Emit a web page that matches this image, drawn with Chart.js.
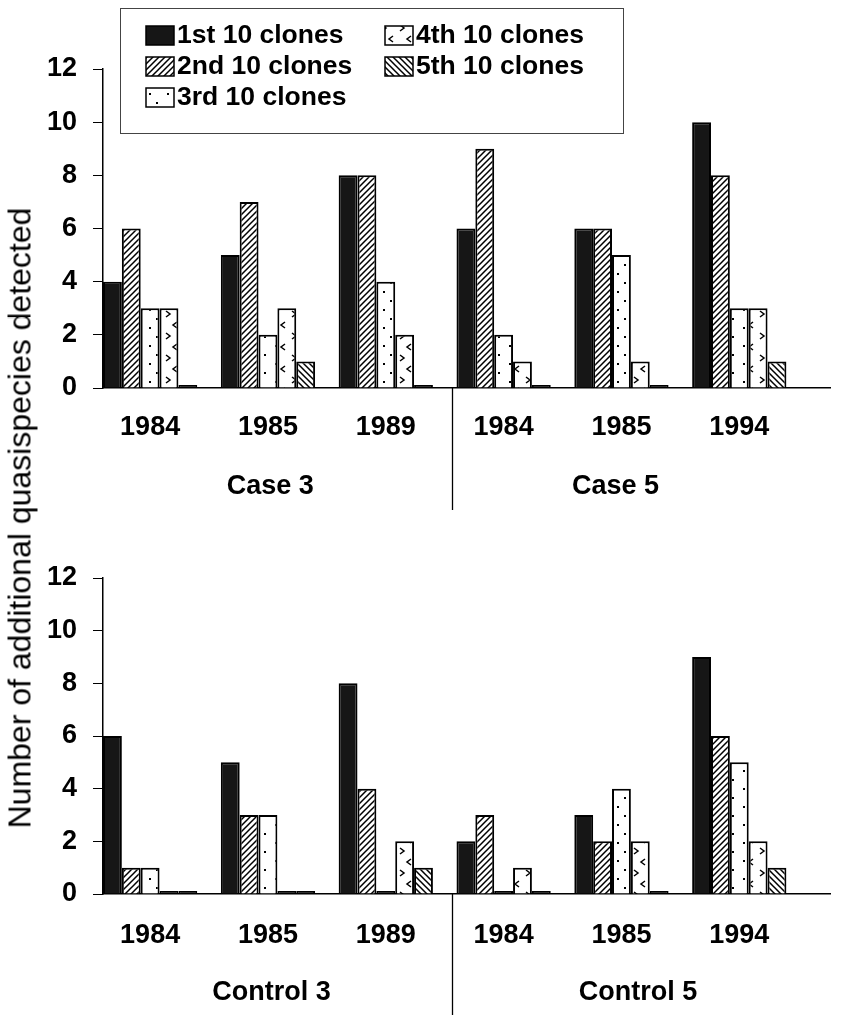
<!DOCTYPE html>
<html>
<head>
<meta charset="utf-8">
<title>Additional quasispecies detected</title>
<script src="https://cdn.jsdelivr.net/npm/chart.js@4.4.0/dist/chart.umd.min.js"></script>
<style>
  body { margin: 0; background: #fff; }
  #wrap { position: relative; width: 842px; height: 1015px; overflow: hidden; }
  #topChart { position: absolute; left: 0; top: 0; }
  #bottomChart { position: absolute; left: 0; top: 515px; }
  #yTitle {
    position: absolute; left: 20px; top: 518px;
    transform: translate(-50%, -50%) rotate(-90deg);
    white-space: nowrap;
    font: 32px "Liberation Sans", Arial, Helvetica, sans-serif;
    color: #000;
  }
</style>
</head>
<body>
<div id="wrap">
  <canvas id="topChart" width="842" height="515"></canvas>
  <canvas id="bottomChart" width="842" height="500"></canvas>
  <div id="yTitle">Number of additional quasispecies detected</div>
</div>
<script>
// years sampled per subject (three per subject, two subjects per panel)
const caseYears = ["1984", "1985", "1989", "1984", "1985", "1994"];
const controlYears = ["1984", "1985", "1989", "1984", "1985", "1994"];
const caseGroups = ["Case 3", "Case 5"];
const controlGroups = ["Control 3", "Control 5"];
const seriesNames = ["1st 10 clones", "2nd 10 clones", "3rd 10 clones", "4th 10 clones", "5th 10 clones"];
const yTicks = [0, 2, 4, 6, 8, 10, 12];

// cases
const case1st = [4, 5, 8, 6, 6, 10];
const case2nd = [6, 7, 8, 9, 6, 8];
const case3rd = [3, 2, 4, 2, 5, 3];
const case4th = [3, 3, 2, 1, 1, 3];
const case5th = [0, 1, 0, 0, 0, 1];

// controls
const control1st = [6, 5, 8, 2, 3, 9];
const control2nd = [1, 3, 4, 3, 2, 6];
const control3rd = [1, 3, 0, 0, 4, 5];
const control4th = [0, 0, 2, 1, 2, 2];
const control5th = [0, 0, 1, 0, 0, 1];

const FONT = "'Liberation Sans', Arial, Helvetica, sans-serif";

// fill patterns, one per clone batch
function tile(w, h, draw) {
  const c = document.createElement("canvas");
  c.width = w; c.height = h;
  const g = c.getContext("2d");
  g.fillStyle = "#fff";
  g.fillRect(0, 0, w, h);
  g.strokeStyle = "#000";
  g.fillStyle = "#000";
  draw(g);
  return g.createPattern(c, "repeat");
}

const fills = [
  "#161616",
  tile(6, 6, g => {
    g.lineWidth = 1.5;
    g.beginPath();
    g.moveTo(0, 6); g.lineTo(6, 0);
    g.moveTo(-1, 1); g.lineTo(1, -1);
    g.moveTo(5, 7); g.lineTo(7, 5);
    g.stroke();
  }),
  tile(18, 18, g => {
    g.fillRect(5, 3, 2, 2);
    g.fillRect(12, 12, 2, 2);
  }),
  tile(18, 22, g => {
    g.lineWidth = 1.5;
    g.beginPath();
    g.moveTo(4, 3); g.lineTo(8, 6); g.lineTo(4, 9);
    g.moveTo(15, 14); g.lineTo(11, 17); g.lineTo(15, 20);
    g.stroke();
  }),
  tile(6, 6, g => {
    g.lineWidth = 1.5;
    g.beginPath();
    g.moveTo(0, 0); g.lineTo(6, 6);
    g.moveTo(-1, 5); g.lineTo(1, 7);
    g.moveTo(5, -1); g.lineTo(7, 1);
    g.stroke();
  })
];

// subject labels under the years, and the rule between the two subjects
const groupLabels = {
  id: "groupLabels",
  afterDraw(chart, args, opts) {
    const { ctx, chartArea, scales: { x } } = chart;
    ctx.save();
    ctx.font = "bold 27px " + FONT;
    ctx.fillStyle = "#000";
    ctx.textAlign = "center";
    ctx.textBaseline = "middle";
    opts.labels.forEach((t, i) => {
      ctx.fillText(t, x.getPixelForValue(opts.centers[i]), chartArea.bottom + opts.offset);
    });
    const dx = Math.round(x.getPixelForValue(opts.divider)) + 0.5;
    ctx.strokeStyle = "#000";
    ctx.lineWidth = 1.3;
    ctx.beginPath();
    ctx.moveTo(dx, chartArea.bottom);
    ctx.lineTo(dx, chartArea.bottom + opts.dividerLength);
    ctx.stroke();
    ctx.restore();
  }
};

// boxed two-column legend drawn over the top panel
const boxLegend = {
  id: "boxLegend",
  afterDraw(chart, args, opts) {
    if (!opts.show) return;
    const ctx = chart.ctx;
    ctx.save();
    ctx.strokeStyle = "#444";
    ctx.lineWidth = 1;
    ctx.fillStyle = "#fff";
    ctx.fillRect(opts.left, opts.top, opts.width, opts.height);
    ctx.strokeRect(opts.left + 0.5, opts.top + 0.5, opts.width, opts.height);
    ctx.font = "bold 26.5px " + FONT;
    ctx.textBaseline = "middle";
    chart.data.datasets.forEach((ds, i) => {
      const col = Math.floor(i / opts.rows);
      const row = i % opts.rows;
      const sx = opts.colX[col];
      const sy = opts.rowY[row];
      ctx.fillStyle = fills[i];
      ctx.fillRect(sx, sy - 9, 28, 19);
      ctx.strokeStyle = "#000";
      ctx.lineWidth = 1.5;
      ctx.strokeRect(sx, sy - 9, 28, 19);
      ctx.fillStyle = "#000";
      ctx.fillText(ds.label, sx + 31, sy + 1);
    });
    ctx.restore();
  }
};

function buildChart(id, years, series, cfg) {
  const datasets = series.map((vals, i) => ({
    label: seriesNames[i],
    data: vals.map((v, k) => ({ x: k, y: v })),
    // an empty batch shows as a solid stub on the baseline
    backgroundColor: c => (c.raw && c.raw.y === 0 ? "#000" : fills[i]),
    borderColor: "#000",
    borderWidth: 2,
    minBarLength: 3,
    categoryPercentage: 0.8,
    barPercentage: 1.0
  }));

  return new Chart(document.getElementById(id), {
    type: "bar",
    data: { datasets },
    plugins: [groupLabels, boxLegend],
    options: {
      responsive: false,
      animation: false,
      layout: { padding: { top: cfg.top, right: 12, left: 0, bottom: 0 } },
      plugins: {
        legend: { display: false },
        tooltip: { enabled: false },
        groupLabels: cfg.groups,
        boxLegend: cfg.legend
      },
      scales: {
        x: {
          type: "linear",
          min: -0.4,
          max: 5.77,
          offset: false,
          grid: { display: false, drawTicks: false, tickLength: 0 },
          border: { display: true, color: "#000", width: 1.5 },
          afterBuildTicks: s => { s.ticks = years.map((_, i) => ({ value: i })); },
          ticks: {
            autoSkip: false,
            maxRotation: 0,
            padding: cfg.tickPad,
            color: "#000",
            font: { family: FONT, size: 27, weight: "bold" },
            callback: v => years[v]
          },
          afterFit: s => { s.height = cfg.xHeight; }
        },
        y: {
          min: 0,
          max: 12,
          afterBuildTicks: s => { s.ticks = yTicks.map(v => ({ value: v })); },
          grid: { drawOnChartArea: false, drawTicks: true, tickLength: 10, color: "#000", lineWidth: 1 },
          border: { display: true, color: "#000", width: 1.5 },
          ticks: {
            padding: 16,
            color: "#000",
            font: { family: FONT, size: 27, weight: "bold" }
          },
          afterFit: s => { s.width = 103; }
        }
      }
    }
  });
}

buildChart("topChart", caseYears, [case1st, case2nd, case3rd, case4th, case5th], {
  top: 69,
  xHeight: 127,
  tickPad: 23,
  groups: { labels: caseGroups, centers: [1.02, 3.95], offset: 99, divider: 2.56, dividerLength: 122 },
  legend: {
    show: true, left: 120, top: 8, width: 503, height: 125,
    rows: 3, colX: [146, 385], rowY: [35, 66, 97]
  }
});

buildChart("bottomChart", controlYears, [control1st, control2nd, control3rd, control4th, control5th], {
  top: 63,
  xHeight: 121,
  tickPad: 25,
  groups: { labels: controlGroups, centers: [1.03, 4.14], offset: 99, divider: 2.56, dividerLength: 121 },
  legend: { show: false }
});
</script>
</body>
</html>
